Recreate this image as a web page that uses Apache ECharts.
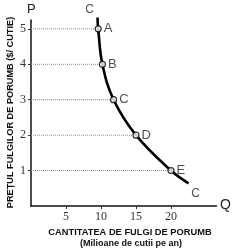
<!DOCTYPE html>
<html><head><meta charset="utf-8">
<script src="https://cdn.jsdelivr.net/npm/echarts@6/dist/echarts.min.js"></script>
<style>html,body{margin:0;padding:0;background:#fff}#c{width:242px;height:252px}</style>
</head><body><div id="c"></div>
<script>
const pointNames = ['A','B','C','D','E'];
const pointQ = [9.6, 10.2, 11.8, 15, 20];
const pointP = [5, 4, 3, 2, 1];
const curveQ = [9.5, 9.6, 10.2, 11.8, 15, 20, 22.5];
const curveP = [5.32, 5, 4, 3, 2, 1, 0.64];
const curveName = 'C';
const xTicks = [5, 10, 15, 20];
const yTicks = [1, 2, 3, 4, 5];

const chart = echarts.init(document.getElementById('c'), null, {renderer:'canvas'});
const last = curveQ.length-1;
const guideSeries = pointQ.map((q,i)=>({
  type:'line', data:[[0,pointP[i]],[q,pointP[i]]], symbol:'none', silent:true,
  lineStyle:{color:'#8a8a8a', width:1, type:[1,1]}, z:1
}));
chart.setOption({
  animation:false,
  grid:{left:31, right:25.5, top:20, bottom:46},
  xAxis:{type:'value', min:0, max:26.5, interval:5,
    axisLine:{lineStyle:{color:'#111', width:1.5}},
    axisTick:{customValues:xTicks, length:3, lineStyle:{color:'#333'}},
    axisLabel:{customValues:xTicks, fontFamily:'Liberation Serif', fontSize:12, color:'#333', margin:5},
    splitLine:{show:false}},
  yAxis:{type:'value', min:0, max:5.25, interval:1,
    axisLine:{lineStyle:{color:'#111', width:1.5}},
    axisTick:{customValues:yTicks, length:3, lineStyle:{color:'#333'}},
    axisLabel:{customValues:yTicks, fontFamily:'Liberation Serif', fontSize:12, color:'#333', margin:5},
    splitLine:{show:false}},
  graphic:[
    {type:'text', left:27, top:3, style:{text:'P', font:'13px "Liberation Sans"', fill:'#222'}},
    {type:'text', left:220, top:198, style:{text:'Q', font:'14px "Liberation Sans"', fill:'#222'}},
    {type:'text', x:10, y:112.5, rotation:Math.PI/2, style:{text:'PREȚUL FULGILOR DE PORUMB ($/ CUTIE)', font:'bold 9.2px "Liberation Sans"', fill:'#111', align:'center', verticalAlign:'middle'}},
    {type:'text', x:130, y:232, style:{text:'CANTITATEA DE FULGI DE PORUMB', font:'bold 9.3px "Liberation Sans"', fill:'#111', align:'center', verticalAlign:'middle'}},
    {type:'text', x:131, y:243.5, style:{text:'(Milioane de cutii pe an)', font:'bold 9px "Liberation Sans"', fill:'#111', align:'center', verticalAlign:'middle'}}
  ],
  series:[
    ...guideSeries,
    {type:'line', data:curveQ.map((q,i)=>[q,curveP[i]]), smooth:0.4, symbol:'none', clip:false,
     lineStyle:{color:'#000', width:2.6}, z:3},
    {type:'scatter', symbolSize:0, z:4, silent:true, clip:false,
     data:[
       {value:[curveQ[0],curveP[0]], label:{position:'top', offset:[-8,3]}},
       {value:[curveQ[last],curveP[last]], label:{position:'bottom', offset:[7,-1]}}
     ],
     label:{show:true, formatter:curveName, fontFamily:'Liberation Sans', fontSize:12, color:'#222'}},
    {type:'scatter', data:pointQ.map((q,i)=>({value:[q,pointP[i]], name:pointNames[i]})),
     symbol:'circle', symbolSize:6, z:5, clip:false,
     itemStyle:{color:'#fff', borderColor:'#000', borderWidth:1.2},
     label:{show:true, position:'right', distance:2, formatter:p=>p.name, fontFamily:'Liberation Sans', fontSize:13, color:'#222'}}
  ]
});
</script></body></html>
